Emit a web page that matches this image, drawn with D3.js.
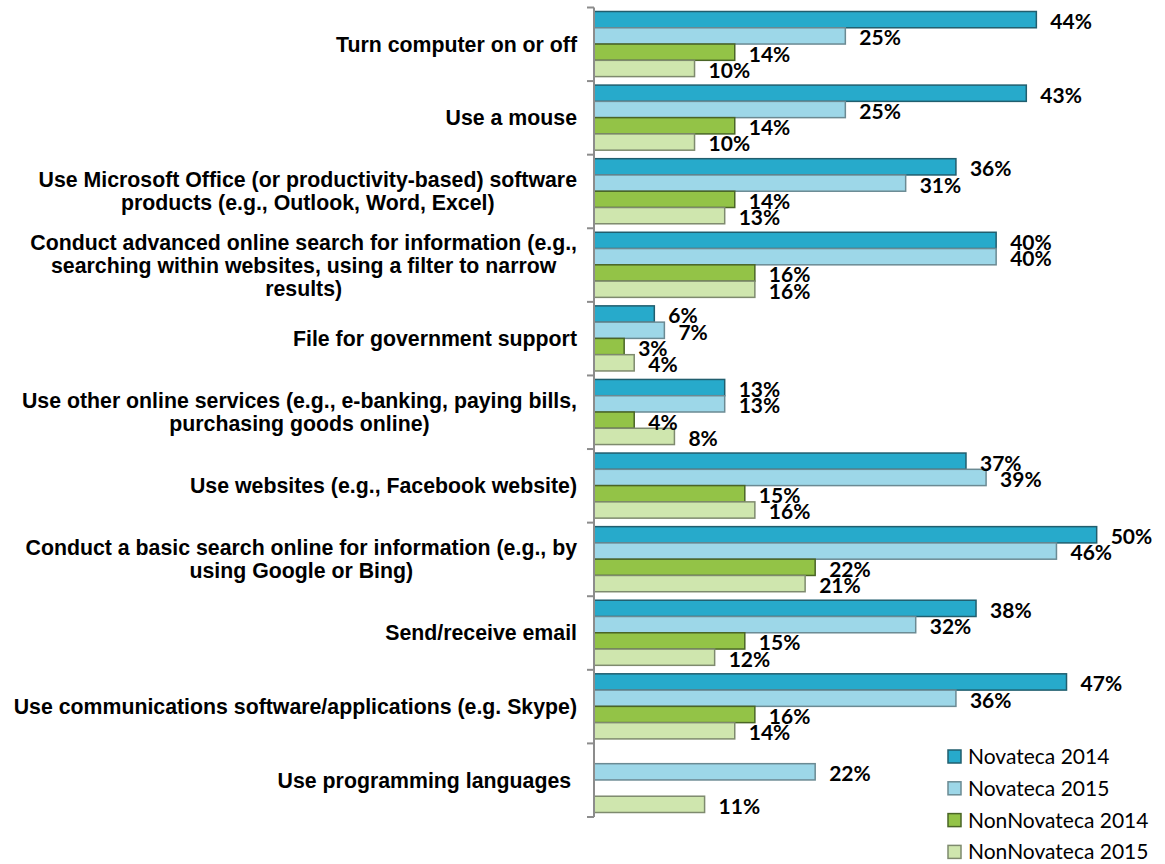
<!DOCTYPE html>
<html>
<head>
<meta charset="utf-8">
<script src="https://cdn.jsdelivr.net/npm/d3@7"></script>
<style>
    body { margin: 0; background: #ffffff; }
    .cat { font-family: 'Liberation Sans', Arial, sans-serif; font-weight: bold; font-size: 21.3px; fill: #000000; }
    .val { font-family: Lato, 'Open Sans', sans-serif; font-weight: bold; font-size: 21px; fill: #000000; }
    .leg { font-family: Lato, 'Open Sans', sans-serif; font-size: 21px; fill: #000000; }
</style>
</head>
<body>
<div id="chart"></div>
<script>
'use strict';

var categories = [
    ['Turn computer on or off'],
    ['Use a mouse'],
    ['Use Microsoft Office (or productivity-based) software', 'products (e.g., Outlook, Word, Excel)'],
    ['Conduct advanced online search for information (e.g.,', 'searching within websites, using a filter to narrow', 'results)'],
    ['File for government support'],
    ['Use other online services (e.g., e-banking, paying bills,', 'purchasing goods online)'],
    ['Use websites (e.g., Facebook website)'],
    ['Conduct a basic search online for information (e.g., by', 'using Google or Bing)'],
    ['Send/receive email'],
    ['Use communications software/applications (e.g. Skype)'],
    ['Use programming languages ']
];

var seriesNames = ['Novateca 2014', 'Novateca 2015', 'NonNovateca 2014', 'NonNovateca 2015'];

var novateca2014    = [44, 43, 36, 40, 6, 13, 37, 50, 38, 47, null];
var novateca2015    = [25, 25, 31, 40, 7, 13, 39, 46, 32, 36, 22];
var nonNovateca2014 = [14, 14, 14, 16, 3, 4, 15, 22, 15, 16, null];
var nonNovateca2015 = [10, 10, 13, 16, 4, 8, 16, 21, 12, 14, 11];

var seriesValues = [novateca2014, novateca2015, nonNovateca2014, nonNovateca2015];

var fills   = ['#27aacb', '#9dd7e8', '#93c347', '#cfe6ae'];
var strokes = ['#215e6e', '#6b8a93', '#4a6526', '#7e8a6e'];

var width = 1165,
    height = 864;

var svg = d3.select('#chart').append('svg')
    .attr('width', width)
    .attr('height', height);

var catIdx = d3.range(categories.length);

var y = d3.scaleBand()
    .domain(catIdx)
    .range([7.5, 817]);

var yInner = d3.scaleBand()
    .domain(d3.range(seriesNames.length))
    .range([4, y.bandwidth() - 4.5]);

var x = d3.scaleLinear()
    .domain([0, 56])
    .range([594, 1157]);

// bars
var groups = svg.append('g')
    .attr('id', 'bars-layer')
    .selectAll('g')
    .data(catIdx)
    .join('g')
    .attr('transform', function(d) { return 'translate(0,' + y(d) + ')'; });

groups.each(function(ci) {
    var g = d3.select(this);
    var rows = seriesValues.map(function(vals, si) {
        return { s: si, v: vals[ci] };
    }).filter(function(r) { return r.v !== null; });

    g.selectAll('rect')
        .data(rows)
        .join('rect')
        .attr('x', x(0))
        .attr('y', function(r) { return yInner(r.s); })
        .attr('width', function(r) { return x(r.v) - x(0); })
        .attr('height', yInner.bandwidth())
        .attr('fill', function(r) { return fills[r.s]; })
        .attr('stroke', function(r) { return strokes[r.s]; })
        .attr('stroke-width', 1.5);

    g.selectAll('text')
        .data(rows)
        .join('text')
        .attr('class', 'val')
        .attr('x', function(r) { return x(r.v) + 14; })
        .attr('y', function(r) { return yInner(r.s) + yInner.bandwidth() / 2; })
        .attr('dy', '0.45em')
        .text(function(r) { return r.v + '%'; });
});

// axis with ticks between categories
var axis = svg.append('g').attr('id', 'axis-layer');
var bounds = catIdx.map(function(d) { return y(d); }).concat([y.range()[1]]);

axis.append('line')
    .attr('x1', x(0)).attr('x2', x(0))
    .attr('y1', y.range()[0]).attr('y2', y.range()[1])
    .attr('stroke', '#8c8c8c')
    .attr('stroke-width', 2);

axis.selectAll('line.tick')
    .data(bounds)
    .join('line')
    .attr('class', 'tick')
    .attr('x1', x(0) - 7).attr('x2', x(0))
    .attr('y1', function(d) { return d; }).attr('y2', function(d) { return d; })
    .attr('stroke', '#8c8c8c')
    .attr('stroke-width', 2);

// category labels, lines centred inside a right-aligned block
var labelRight = 577,
    lineHeight = 23;

var labels = svg.append('g').attr('id', 'labels-layer');
categories.forEach(function(lines, ci) {
    var cy = y(ci) + y.bandwidth() / 2;
    var t = labels.append('text')
        .attr('class', 'cat')
        .attr('text-anchor', 'middle')
        .attr('y', cy - (lines.length - 1) * lineHeight / 2);

    var spans = t.selectAll('tspan')
        .data(lines)
        .join('tspan')
        .attr('dy', function(d, i) { return i === 0 ? '0.35em' : lineHeight; })
        .style('white-space', 'pre')
        .text(function(d) { return d; });

    var maxW = 0;
    spans.each(function() { maxW = Math.max(maxW, this.getComputedTextLength()); });
    spans.attr('x', labelRight - maxW / 2);
});

// legend
var legend = svg.append('g')
    .attr('id', 'legend-layer')
    .attr('transform', 'translate(948,750)');

var items = legend.selectAll('g')
    .data(seriesNames)
    .join('g')
    .attr('transform', function(d, i) { return 'translate(0,' + (i * 31.8) + ')'; });

items.append('rect')
    .attr('width', 13)
    .attr('height', 13)
    .attr('fill', function(d, i) { return fills[i]; })
    .attr('stroke', function(d, i) { return strokes[i]; })
    .attr('stroke-width', 1.5);

items.append('text')
    .attr('class', 'leg')
    .attr('x', 20)
    .attr('y', 6.5)
    .attr('dy', '0.36em')
    .text(function(d) { return d; });
</script>
</body>
</html>
